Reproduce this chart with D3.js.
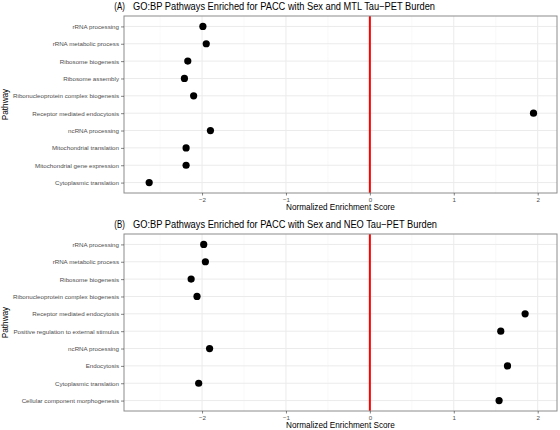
<!DOCTYPE html>
<html>
<head>
<meta charset="utf-8">
<script src="https://cdn.jsdelivr.net/npm/d3@7"></script>
<style>
  body { margin: 0; background: #fff; }
  svg { font-family: "Liberation Sans", Helvetica, Arial, sans-serif; display: block; }
</style>
</head>
<body>
<svg class="gsea-chart" width="560" height="430"></svg>
<script>
// pathways, top to bottom
const pathwaysA = ['rRNA processing', 'rRNA metabolic process', 'Ribosome biogenesis', 'Ribosome assembly',
  'Ribonucleoprotein complex biogenesis', 'Receptor mediated endocytosis', 'ncRNA processing',
  'Mitochondrial translation', 'Mitochondrial gene expression', 'Cytoplasmic translation']
const nesA = [-1.99, -1.95, -2.17, -2.21, -2.10, 1.95, -1.90, -2.19, -2.19, -2.63]

const pathwaysB = ['rRNA processing', 'rRNA metabolic process', 'Ribosome biogenesis',
  'Ribonucleoprotein complex biogenesis', 'Receptor mediated endocytosis',
  'Positive regulation to external stimulus', 'ncRNA processing', 'Endocytosis',
  'Cytoplasmic translation', 'Cellular component morphogenesis']
const nesB = [-1.98, -1.96, -2.13, -2.06, 1.85, 1.56, -1.91, 1.64, -2.04, 1.54]

const titles = ['GO:BP Pathways Enriched for PACC with Sex and MTL Tau\u2212PET Burden',
  'GO:BP Pathways Enriched for PACC with Sex and NEO Tau\u2212PET Burden']
const tags = ['(A)', '(B)']
const xTicks = [-2, -1, 0, 1, 2]
const xMinor = [-2.5, -1.5, -0.5, 0.5, 1.5]
const xLimits = [-2.93, 2.23]

const svg = d3.select('svg.gsea-chart')

function panel(names, values, top, bottom, tag, title, titleWidth){
  const left = 124, right = 557
  const x = d3.scaleLinear().domain(xLimits).range([left, right])
  const y = d3.scalePoint().domain(names).range([top, bottom]).padding(0.6)

  const g = svg.append('g')

  // grid
  g.selectAll('.minor').data(xMinor).enter().append('line')
    .attr('x1', d => x(d)).attr('x2', d => x(d)).attr('y1', top).attr('y2', bottom)
    .attr('stroke', '#f2f2f2').attr('stroke-width', 0.5)
  g.selectAll('.major').data(xTicks).enter().append('line')
    .attr('x1', d => x(d)).attr('x2', d => x(d)).attr('y1', top).attr('y2', bottom)
    .attr('stroke', '#ebebeb').attr('stroke-width', 1)
  g.selectAll('.hgrid').data(names).enter().append('line')
    .attr('x1', left).attr('x2', right).attr('y1', d => y(d)).attr('y2', d => y(d))
    .attr('stroke', '#ebebeb').attr('stroke-width', 1)

  // zero line
  g.append('line')
    .attr('x1', x(0)).attr('x2', x(0)).attr('y1', top).attr('y2', bottom)
    .attr('stroke', '#ff0000').attr('stroke-width', 2)

  // points
  g.selectAll('circle').data(names).enter().append('circle')
    .attr('cx', (d, i) => x(values[i])).attr('cy', d => y(d)).attr('r', 3.6)
    .attr('fill', '#000')

  // border
  g.append('rect').attr('x', left).attr('y', top)
    .attr('width', right - left).attr('height', bottom - top)
    .attr('fill', 'none').attr('stroke', '#8c8c8c').attr('stroke-width', 1)

  // axes
  const xAxis = g.append('g').attr('transform', `translate(0,${bottom})`)
    .call(d3.axisBottom(x).tickValues(xTicks).tickSize(2.5).tickPadding(2).tickFormat(d => d < 0 ? '\u2212' + Math.abs(d) : d))
  const yAxis = g.append('g').attr('transform', `translate(${left},0)`)
    .call(d3.axisLeft(y).tickSize(3).tickPadding(2))
  ;[xAxis, yAxis].forEach(a => {
    a.select('.domain').remove()
    a.selectAll('.tick line').attr('stroke', '#333').attr('stroke-width', 0.6)
    a.selectAll('.tick text').attr('fill', '#4d4d4d').attr('font-size', 6.2).attr('font-family', null)
  })

  // titles
  g.append('text').attr('x', (left + right) / 2).attr('y', bottom + 17)
    .attr('text-anchor', 'middle').attr('font-size', 8.2).attr('fill', '#000')
    .text('Normalized Enrichment Score')
  g.append('text').attr('transform', `translate(8,${(top + bottom) / 2}) rotate(-90)`)
    .attr('text-anchor', 'middle').attr('font-size', 8.2).attr('fill', '#000')
    .text('Pathway')
  g.append('text').attr('x', 114.3).attr('y', top - 6.5)
    .attr('font-size', 11.5).attr('fill', '#000')
    .attr('textLength', 10.5).attr('lengthAdjust', 'spacingAndGlyphs').text(tag)
  g.append('text').attr('x', 133).attr('y', top - 6.5)
    .attr('font-size', 10).attr('fill', '#000')
    .attr('textLength', titleWidth).attr('lengthAdjust', 'spacingAndGlyphs').text(title)
}

panel(pathwaysA, nesA, 16, 193, tags[0], titles[0], 302)
panel(pathwaysB, nesB, 234, 411, tags[1], titles[1], 304)
</script>
</body>
</html>
